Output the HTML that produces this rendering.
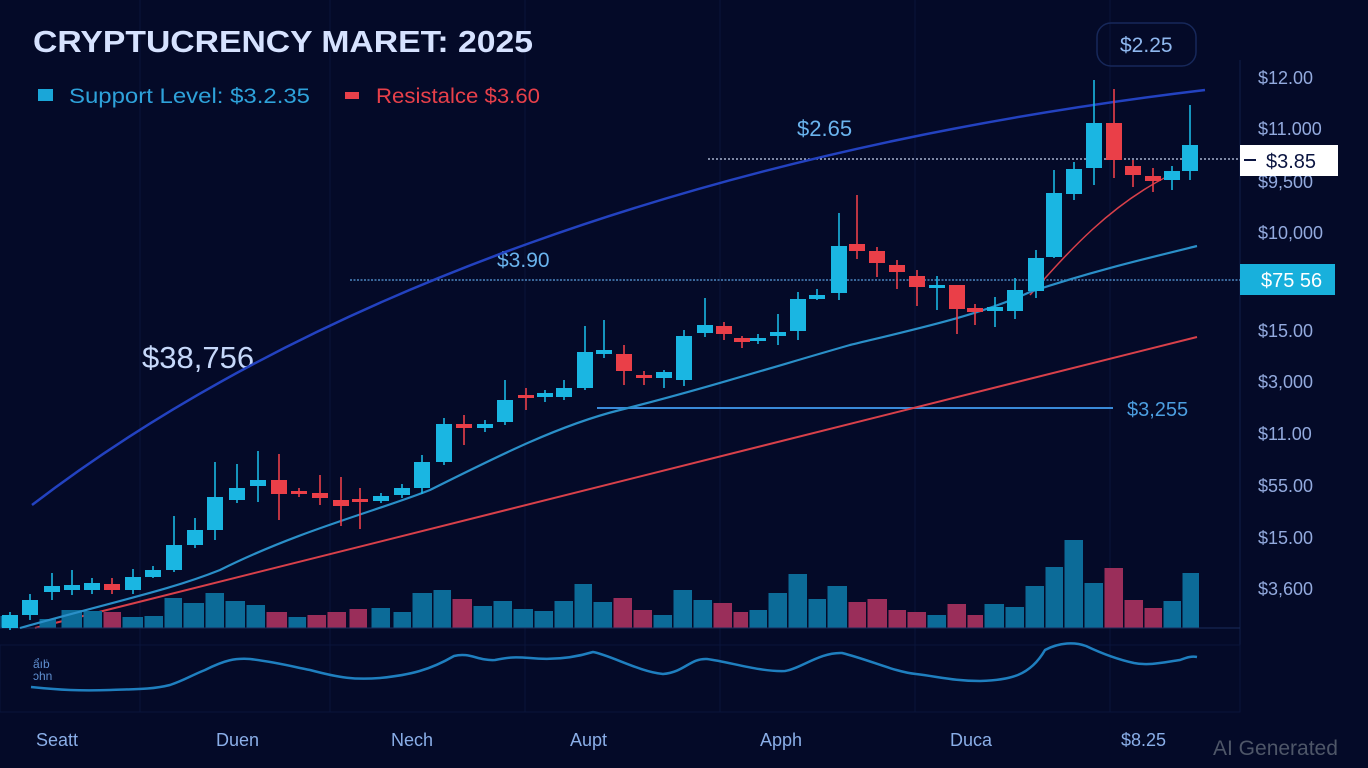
<!DOCTYPE html>
<html><head><meta charset="utf-8"><style>
html,body{margin:0;padding:0;background:#040a28;}
svg{display:block;font-family:"Liberation Sans",sans-serif;}
</style></head><body>
<svg width="1368" height="768" viewBox="0 0 1368 768" xmlns="http://www.w3.org/2000/svg">
<rect width="1368" height="768" fill="#040a28"/>
<g stroke="#0a143a" stroke-width="1">
<line x1="140" y1="0" x2="140" y2="712"/><line x1="330" y1="0" x2="330" y2="712"/><line x1="525" y1="0" x2="525" y2="712"/><line x1="720" y1="0" x2="720" y2="712"/><line x1="915" y1="0" x2="915" y2="712"/><line x1="1110" y1="0" x2="1110" y2="712"/>
<line x1="0" y1="712" x2="1240" y2="712"/>
</g>
<line x1="1240" y1="60" x2="1240" y2="712" stroke="#111e48"/>
<text x="33" y="52" font-size="31" font-weight="bold" fill="#d6e2ff" textLength="500" lengthAdjust="spacingAndGlyphs">CRYPTUCRENCY MARET: 2025</text>
<rect x="38" y="89" width="15" height="12" fill="#1aa6d8"/>
<text x="69" y="103" font-size="21" fill="#2ea2da" textLength="241" lengthAdjust="spacingAndGlyphs">Support Level:  $3.2.35</text>
<rect x="345" y="92" width="14" height="7" fill="#e8404a"/>
<text x="376" y="103" font-size="21" fill="#e8404a" textLength="164" lengthAdjust="spacingAndGlyphs">Resistalce $3.60</text>
<rect x="1097" y="23" width="99" height="43" rx="14" fill="none" stroke="#17285a" stroke-width="1.5"/>
<text x="1120" y="52" font-size="21" fill="#8fb8ef">$2.25</text>
<text x="797" y="136" font-size="22" fill="#6ab4ee">$2.65</text>
<text x="497" y="267" font-size="21" fill="#6ab4ee">$3.90</text>
<text x="142" y="368" font-size="31" fill="#c6d8fa">$38,756</text>
<text x="1127" y="416" font-size="20" fill="#4c9ee0">$3,255</text>
<line x1="708" y1="159" x2="1240" y2="159" stroke="#c8d4ee" stroke-width="1.3" stroke-dasharray="2,2"/>
<line x1="350" y1="280" x2="1240" y2="280" stroke="#5aa0e0" stroke-width="1.3" stroke-dasharray="2,1.5"/>
<line x1="597" y1="408" x2="1113" y2="408" stroke="#3a8ad8" stroke-width="2"/>
<path d="M32,505 C300,300 700,150 1205,90" fill="none" stroke="#2342c0" stroke-width="2.5"/>
<path d="M35,628 L1197,337" stroke="#d8404a" stroke-width="2" fill="none"/>
<path d="M1030,295 C1070,250 1110,205 1170,175" stroke="#d8404a" stroke-width="1.5" fill="none"/>
<g id="vol"></g>
<line x1="0" y1="628" x2="1240" y2="628" stroke="#1a2c5c"/>
<path d="M20,628 C120,600 170,590 220,570 C300,530 380,510 430,490 C500,455 560,425 620,410 C700,390 780,365 850,345 C920,328 980,315 1030,292 C1090,272 1140,260 1197,246" fill="none" stroke="#2a8fc8" stroke-width="2.2"/>
<g id="candles"></g>
<rect x="0" y="645" width="1240" height="67" fill="none" stroke="#0a143a"/>
<path d="M31,687 C60,690 80,691 110,690 C130,689 150,690 170,685 C185,680 190,676 205,670 C225,660 235,658 250,659 C275,662 290,666 310,670 C340,678 355,680 380,678 C410,675 430,670 454,656 C470,652 478,661 495,660 C510,657 515,657 530,658 C550,660 570,659 593,652 C610,655 640,672 663,674 C685,672 690,658 707,659 C730,662 760,672 785,671 C800,669 820,652 842,653 C870,660 895,672 916,674 C940,677 955,681 980,681 C1010,680 1030,676 1045,650 C1060,642 1075,642 1086,646 C1105,655 1120,660 1134,663 C1150,666 1165,662 1180,660 C1188,657 1192,656 1197,657" fill="none" stroke="#1f7fbf" stroke-width="2.5"/>
<text x="33" y="668" font-size="12" fill="#5f8fd0">ẩıḃ</text>
<text x="33" y="680" font-size="12" fill="#5f8fd0">ɔhn</text>
<g font-size="18" fill="#93aade">
<text x="1258" y="84">$12.00</text><text x="1258" y="135">$11.000</text><text x="1258" y="188">$9,500</text><text x="1258" y="239">$10,000</text><text x="1258" y="337">$15.00</text><text x="1258" y="388">$3,000</text><text x="1258" y="440">$11.00</text><text x="1258" y="492">$55.00</text><text x="1258" y="544">$15.00</text><text x="1258" y="595">$3,600</text>
</g>
<rect x="1240" y="145" width="98" height="31" fill="#ffffff"/>
<line x1="1244" y1="160" x2="1256" y2="160" stroke="#0a1440" stroke-width="2"/>
<text x="1266" y="168" font-size="20" fill="#0a1440">$3.85</text>
<rect x="1240" y="264" width="95" height="31" fill="#18b0dc"/>
<text x="1261" y="287" font-size="20" fill="#ffffff">$75 56</text>
<g font-size="18" fill="#8aaee8">
<text x="36" y="746">Seatt</text><text x="216" y="746">Duen</text><text x="391" y="746">Nech</text><text x="570" y="746">Aupt</text><text x="760" y="746">Apph</text><text x="950" y="746">Duca</text><text x="1121" y="746">$8.25</text>
</g>
<text x="1213" y="755" font-size="21" fill="#4e5668">AI Generated</text>
<script>
var NS="http://www.w3.org/2000/svg";
function el(p,t,a){var e=document.createElementNS(NS,t);for(var k in a)e.setAttribute(k,a[k]);p.appendChild(e);}
var C=[[10,615,628,612,630,'c'],[30,600,615,594,620,'c'],[52,586,592,573,600,'c'],[72,585,590,570,595,'c'],[92,583,590,578,594,'c'],[112,584,590,578,594,'r'],[133,577,590,569,594,'c'],[153,570,577,566,578,'c'],[174,545,570,516,572,'c'],[195,530,545,518,548,'c'],[215,497,530,462,540,'c'],[237,488,500,464,503,'c'],[258,480,486,451,502,'c'],[279,480,494,454,520,'r'],[299,491,494,488,497,'r'],[320,493,498,475,505,'r'],[341,500,506,477,526,'r'],[360,499,501,488,529,'r'],[381,496,501,493,503,'c'],[402,488,495,484,498,'c'],[422,462,488,455,494,'c'],[444,424,462,418,465,'c'],[464,424,428,415,445,'r'],[485,424,428,420,432,'c'],[505,400,422,380,425,'c'],[526,395,398,388,410,'r'],[545,393,397,390,402,'c'],[564,388,397,380,400,'c'],[585,352,388,326,390,'c'],[604,350,354,320,358,'c'],[624,354,371,345,385,'r'],[644,375,378,371,385,'r'],[664,372,378,370,388,'c'],[684,336,380,330,386,'c'],[705,325,333,298,337,'c'],[724,326,334,322,340,'r'],[742,338,342,336,348,'r'],[758,338,340,334,344,'c'],[778,332,336,314,345,'c'],[798,299,331,292,340,'c'],[817,295,299,289,300,'c'],[839,246,293,213,300,'c'],[857,244,251,195,259,'r'],[877,251,263,247,277,'r'],[897,265,272,260,289,'r'],[917,276,287,270,306,'r'],[937,285,287,276,310,'c'],[957,285,309,285,334,'r'],[975,308,312,304,325,'r'],[995,307,311,297,327,'c'],[1015,290,311,278,319,'c'],[1036,258,291,250,298,'c'],[1054,193,257,170,258,'c'],[1074,169,194,162,200,'c'],[1094,123,168,80,185,'c'],[1114,123,160,89,178,'r'],[1133,166,175,160,187,'r'],[1153,176,181,168,192,'r'],[1172,171,180,166,190,'c'],[1190,145,171,105,180,'c']];
var g=document.getElementById('candles');
C.forEach(function(c){var col=c[5]=='c'?'#1ab6e2':'#ea3f48';
el(g,'line',{x1:c[0],x2:c[0],y1:c[3],y2:c[4],stroke:col,'stroke-width':1.6});
el(g,'rect',{x:c[0]-8,y:c[1],width:16,height:Math.max(3,c[2]-c[1]),fill:col});});
var V=[[0,17,616,'c'],[39,57,619,'c'],[61,83,610,'c'],[83,103,611,'c'],[103,122,612,'r'],[122,144,617,'c'],[144,164,616,'c'],[164,183,598,'c'],[183,205,603,'c'],[205,225,593,'c'],[225,246,601,'c'],[246,266,605,'c'],[266,288,612,'r'],[288,307,617,'c'],[307,327,615,'r'],[327,347,612,'r'],[349,368,609,'r'],[371,391,608,'c'],[393,412,612,'c'],[412,433,593,'c'],[433,452,590,'c'],[452,473,599,'r'],[473,493,606,'c'],[493,513,601,'c'],[513,534,609,'c'],[534,554,611,'c'],[554,574,601,'c'],[574,593,584,'c'],[593,613,602,'c'],[613,633,598,'r'],[633,653,610,'r'],[653,673,615,'c'],[673,693,590,'c'],[693,713,600,'c'],[713,733,603,'r'],[733,749,612,'r'],[749,768,610,'c'],[768,788,593,'c'],[788,808,574,'c'],[808,827,599,'c'],[827,848,586,'c'],[848,867,602,'r'],[867,888,599,'r'],[888,907,610,'r'],[907,927,612,'r'],[927,947,615,'c'],[947,967,604,'r'],[967,984,615,'r'],[984,1005,604,'c'],[1005,1025,607,'c'],[1025,1045,586,'c'],[1045,1064,567,'c'],[1064,1084,540,'c'],[1084,1104,583,'c'],[1104,1124,568,'r'],[1124,1144,600,'r'],[1144,1163,608,'r'],[1163,1182,601,'c'],[1182,1200,573,'c']];
var gv=document.getElementById('vol');
V.forEach(function(v){el(gv,'rect',{x:v[0]+0.5,y:v[2],width:v[1]-v[0]-1.5,height:628-v[2],fill:v[3]=='c'?'#0c6b98':'#9a2e5a'});});
</script>
</svg>
</body></html>
